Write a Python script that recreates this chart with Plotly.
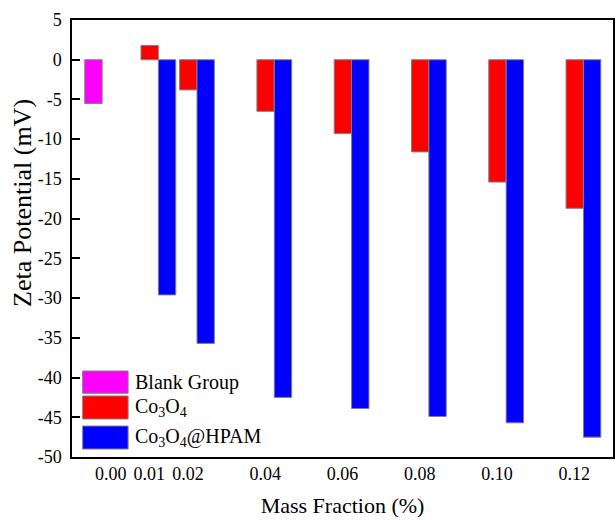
import plotly.graph_objects as go

# Mass fraction (%) of each sample
blank_x = [0.00]
co3o4_x = [0.01, 0.02, 0.04, 0.06, 0.08, 0.10, 0.12]
hpam_x = [0.01, 0.02, 0.04, 0.06, 0.08, 0.10, 0.12]

# Zeta potential (mV)
blank_y = [-5.5]
co3o4_y = [1.8, -3.8, -6.5, -9.3, -11.6, -15.4, -18.7]
hpam_y = [-29.6, -35.7, -42.5, -43.9, -44.9, -45.7, -47.5]

x_tick_vals = [0.00, 0.01, 0.02, 0.04, 0.06, 0.08, 0.10, 0.12]
x_tick_text = ["0.00", "0.01", "0.02", "0.04", "0.06", "0.08", "0.10", "0.12"]
y_tick_vals = [5, 0, -5, -10, -15, -20, -25, -30, -35, -40, -45, -50]
y_tick_text = ["5", "0", "-5", "-10", "-15", "-20", "-25", "-30", "-35", "-40", "-45", "-50"]

series_names = ["Blank Group", "Co<sub>3</sub>O<sub>4</sub>", "Co<sub>3</sub>O<sub>4</sub>@HPAM"]
series_colors = ["#FF00FF", "#FF0000", "#0000FF"]

FONT = "Liberation Serif, Times New Roman, serif"
BAR_W = 0.0045
EDGE = dict(color="#808080", width=1)

fig = go.Figure()
fig.add_trace(go.Bar(x=blank_x, y=blank_y, width=BAR_W, offset=-0.0067,
                     marker=dict(color=series_colors[0], line=EDGE),
                     name=series_names[0], showlegend=False))
fig.add_trace(go.Bar(x=co3o4_x, y=co3o4_y, width=BAR_W, offset=-0.00215,
                     marker=dict(color=series_colors[1], line=EDGE),
                     name=series_names[1], showlegend=False))
fig.add_trace(go.Bar(x=hpam_x, y=hpam_y, width=BAR_W, offset=0.00235,
                     marker=dict(color=series_colors[2], line=EDGE),
                     name=series_names[2], showlegend=False))

# Hand-built legend with large swatches
box_rows = [(0.1968, 0.1458), (0.1396, 0.0870), (0.0709, 0.0183)]
shapes = []
annotations = []
for (y1, y0), name, col in zip(box_rows, series_names, series_colors):
    shapes.append(dict(type="rect", xref="paper", yref="paper",
                       x0=0.0197, x1=0.1037, y0=y0, y1=y1,
                       fillcolor=col, line=dict(color="#808080", width=1)))
    annotations.append(dict(xref="paper", yref="paper", x=0.1125, y=(y0 + y1) / 2,
                            text=name, showarrow=False, xanchor="left", yanchor="middle",
                            font=dict(family=FONT, size=20, color="black")))

# Vertical axis title, placed slightly above the axis midpoint
annotations.append(dict(xref="paper", yref="paper", x=-0.092, y=0.582,
                        text="Zeta Potential (mV)", textangle=-90, showarrow=False,
                        xanchor="center", yanchor="middle",
                        font=dict(family=FONT, size=26, color="black")))

fig.update_layout(
    width=616, height=520,
    margin=dict(l=72, r=1, t=20, b=63),
    paper_bgcolor="white", plot_bgcolor="white",
    barmode="overlay",
    shapes=shapes, annotations=annotations,
    font=dict(family=FONT, color="black"),
)
fig.update_xaxes(
    range=[-0.01, 0.13], tickvals=x_tick_vals, ticktext=x_tick_text,
    ticks="", showgrid=False, zeroline=False,
    showline=True, linecolor="black", linewidth=1.5, mirror=True,
    tickfont=dict(family=FONT, size=18, color="black"),
    title=dict(text="Mass Fraction (%)", font=dict(family=FONT, size=22, color="black"), standoff=14),
)
fig.update_yaxes(
    range=[-50, 5], tickvals=y_tick_vals, ticktext=y_tick_text,
    ticks="inside", ticklen=8, tickwidth=1.5, tickcolor="black",
    ticklabelstandoff=5,
    showgrid=False, zeroline=False,
    showline=True, linecolor="black", linewidth=1.5, mirror=True,
    tickfont=dict(family=FONT, size=18, color="black"),
)

fig.write_html("out.html")
